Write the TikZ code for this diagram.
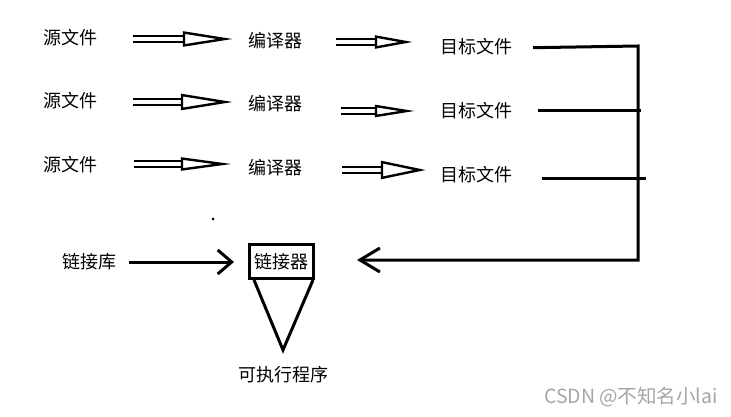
\documentclass[tikz,border=0pt]{standalone}
\usepackage{fontspec}
\newfontfamily\cjk{Noto Sans CJK SC}
\usetikzlibrary{arrows.meta, calc}
\definecolor{markgray}{RGB}{165,165,165}
\tikzset{
    word/.style={font=\cjk\fontsize{18}{21}\selectfont, inner sep=2pt},
    fat/.style={draw=black, line width=2.4pt, double=white, double distance=3.5pt},
    wire/.style={draw=black, line width=3pt},
    barb/.style={-{Straight Barb[length=#1, width=24pt, line width=3pt]}}
}
\begin{document}
\begin{tikzpicture}[x=1pt, y=-1pt]
    \useasboundingbox (0,0) rectangle (731,417);
    % Fontes e compiladores
    \node[word] (src1) at (70,38) {源文件};
    \node[word] (src2) at (70,101) {源文件};
    \node[word] (src3) at (70,165) {源文件};
    \node[word] (cmp1) at (275,41) {编译器};
    \node[word] (cmp2) at (275,104) {编译器};
    \node[word] (cmp3) at (275,168) {编译器};
    \node[word] (obj1) at (476,47) {目标文件};
    \node[word] (obj2) at (476,111) {目标文件};
    \node[word] (obj3) at (476,175) {目标文件};
    % Setas ocas
    \draw[fat, shorten <=34pt, shorten >=13pt, -{Triangle[open, length=50pt, width=15pt, line width=2.4pt]}] ([yshift=-1pt]src1.east) -- ([yshift=-1pt]src1.east -| cmp1.west);
    \draw[fat, shorten <=34pt, shorten >=13pt, -{Triangle[open, length=52pt, width=16pt, line width=2.4pt]}] ([yshift=-1pt]src2.east) -- ([yshift=-1pt]src2.east -| cmp2.west);
    \draw[fat, shorten <=35pt, shorten >=14pt, -{Triangle[open, length=51pt, width=13pt, line width=2.4pt]}] ([yshift=1pt]src3.east) -- ([yshift=1pt]src3.east -| cmp3.west);
    \draw[fat, shorten <=32pt, shorten >=25pt, -{Triangle[open, length=38pt, width=13pt, line width=2.4pt]}] ([yshift=-1pt]cmp1.east) -- ([yshift=-1pt]cmp1.east -| obj1.west);
    \draw[fat, shorten <=37pt, shorten >=23pt, -{Triangle[open, length=40pt, width=12pt, line width=2.4pt]}] (obj2.west -| cmp2.east) -- (obj2.west);
    \draw[fat, shorten <=38pt, shorten >=12pt, -{Triangle[open, length=45pt, width=18pt, line width=2.4pt]}] ([yshift=-2pt]cmp3.east) -- ([yshift=-2pt]cmp3.east -| obj3.west);
    % Ligador
    \node[word, draw, line width=3pt, minimum width=64pt, minimum height=34pt] (linker) at (281.5,261.5) {链接器};
    \node[word] (lib) at (89,262) {链接库};
    \node[word] (exe) at (283,375) {可执行程序};
    \coordinate (bus1) at (638,46);
    \coordinate (bus2) at (638,260);
    \coordinate (end2) at (641,111);
    \coordinate (end3) at (646,178);
    \coordinate (tip) at (283,350);
    \draw[wire, barb=20pt, shorten <=19pt, shorten >=42pt] ([yshift=-1pt]obj1.east) -- (bus1) -- (bus2) -- (bus2 -| linker.east);
    \draw[wire, shorten <=24pt] (obj2.east) -- (end2);
    \draw[wire, shorten <=28pt] (obj3.east |- end3) -- (end3);
    \draw[wire, barb=14pt, shorten <=11pt, shorten >=14pt] (lib.east) -- (lib.east -| linker.west);
    \draw[wire, line join=miter] ([xshift=6pt]linker.south west) -- (tip) -- ([xshift=-2pt]linker.south east);
    \fill (213,219) circle (1.5pt);
    % Marca
    \node[font=\cjk\fontsize{19.5}{22}\selectfont, text=markgray, inner sep=0pt] (mark) at (631,397) {CSDN @不知名小lai};
\end{tikzpicture}
\end{document}
